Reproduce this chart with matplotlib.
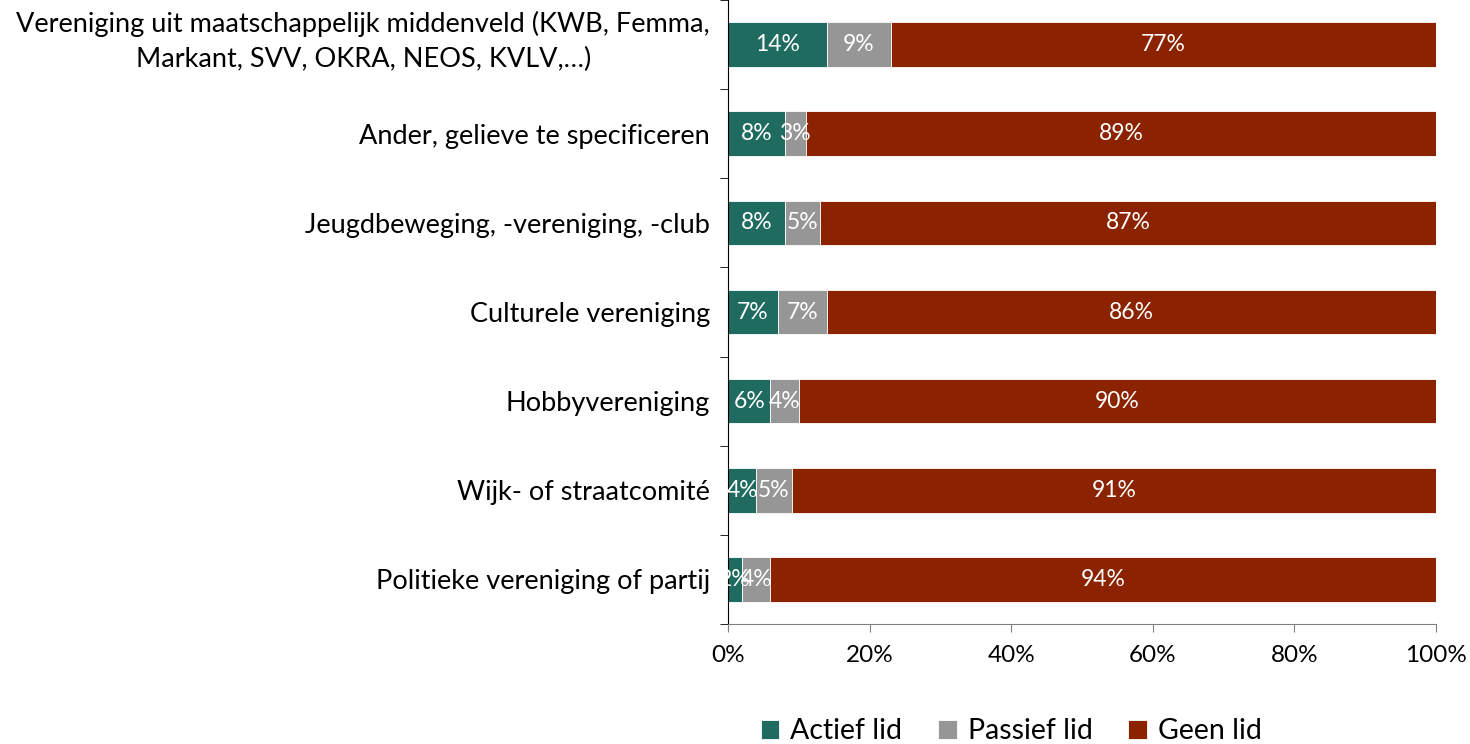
import matplotlib.pyplot as plt
import matplotlib.transforms as mtransforms
import numpy as np

plt.rcParams['font.family'] = ['Lato', 'DejaVu Sans']

categories = [
    "Vereniging uit maatschappelijk middenveld (KWB, Femma,\nMarkant, SVV, OKRA, NEOS, KVLV,…)",
    "Ander, gelieve te specificeren",
    "Jeugdbeweging, -vereniging, -club",
    "Culturele vereniging",
    "Hobbyvereniging",
    "Wijk- of straatcomité",
    "Politieke vereniging of partij",
]
actief = [14, 8, 8, 7, 6, 4, 2]
passief = [9, 3, 5, 7, 4, 5, 4]
geen = [77, 89, 87, 86, 90, 91, 94]

series = [("Actief lid", actief, "#1F6B5F"),
          ("Passief lid", passief, "#969696"),
          ("Geen lid", geen, "#8B2300")]

fig = plt.figure(figsize=(14.7, 7.44), dpi=100)
ax = fig.add_axes([728 / 1470, 1 - 624 / 744, 708 / 1470, 624 / 744])

y = np.arange(len(categories))
left = np.zeros(len(categories))
for name, vals, color in series:
    vals = np.array(vals, dtype=float)
    ax.barh(y, vals, left=left, height=0.5, color=color, label=name,
            edgecolor="white", linewidth=0.6)
    for yi, l, v in zip(y, left, vals):
        ax.text(l + v / 2, yi, f"{int(v)}%", ha="center", va="center",
                color="white", fontsize=16.5)
    left += vals

ax.set_xlim(0, 100)
ax.set_ylim(len(categories) - 0.5, -0.5)
ax.set_xticks(np.arange(0, 101, 20))
ax.set_xticklabels([f"{v}%" for v in range(0, 101, 20)], fontsize=17.5)

ax.set_yticks(y)
ax.set_yticklabels(categories, fontsize=19.5, ha="right")
ax.set_yticks(np.arange(-0.5, len(categories), 1), minor=True)
ax.tick_params(axis="y", which="major", length=0, pad=13)
ax.tick_params(axis="y", which="minor", length=6, direction="out", color="black")
ax.tick_params(axis="x", length=6, direction="out", color="#808080", pad=9)

for s in ["top", "right"]:
    ax.spines[s].set_visible(False)
ax.spines["left"].set_color("black")
ax.spines["bottom"].set_color("#808080")

for lab in ax.get_yticklabels():
    lab.set_multialignment("center")
    lab.set_linespacing(1.5)
# two-line label sits a little higher in the original
first = ax.get_yticklabels()[0]
first.set_transform(first.get_transform() +
                    mtransforms.ScaledTranslation(0, 0.11, fig.dpi_scale_trans))

fig.legend(loc="lower center", bbox_to_anchor=(0.688, -0.035), ncol=3, frameon=False,
           fontsize=20.5, handlelength=0.65, handleheight=0.65, columnspacing=1.25,
           handletextpad=0.4)

fig.savefig("out.png", dpi=100)
